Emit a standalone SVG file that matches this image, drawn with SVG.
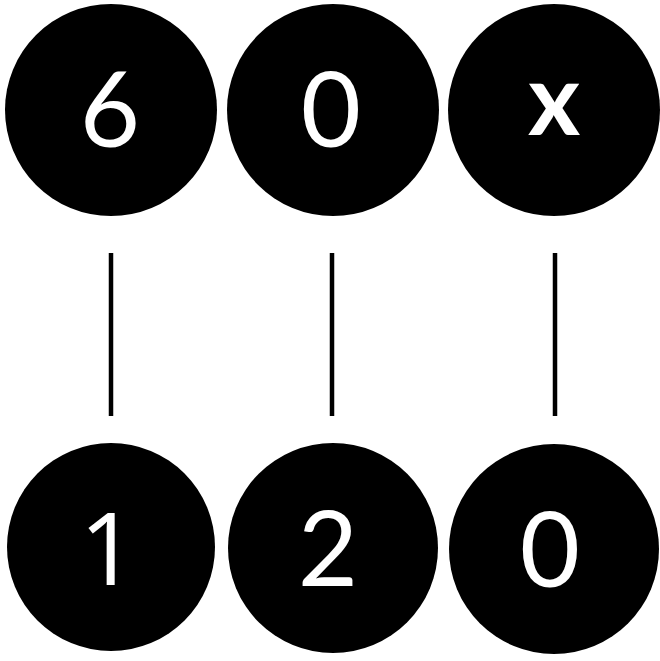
<svg xmlns="http://www.w3.org/2000/svg" width="660" height="661" viewBox="0 0 660 661">
<style>
.node circle{fill:#000}
.node text{fill:#fff;font-family:Lato,"Noto Sans",sans-serif;font-size:104px;text-anchor:middle}
.node text.x{font-weight:bold;font-size:100px}
.node text.one{font-family:"Open Sans","Noto Sans",sans-serif;font-size:100px}
.conn line{stroke:#000;stroke-width:4.5}
</style>
<rect width="660" height="661" fill="#fff"/>
<g class="conn">
<line x1="111" y1="253" x2="111" y2="416"/>
<line x1="332" y1="253" x2="332" y2="416"/>
<line x1="555" y1="253" x2="555" y2="416"/>
</g>
<g id="n6" class="node"><circle cx="111" cy="110" r="106"/><text x="110" y="147">6</text></g>
<g id="n0a" class="node"><circle cx="333" cy="110" r="106"/><text x="331" y="147">0</text></g>
<g id="nx" class="node"><circle cx="554" cy="110" r="106"/><text class="x" x="554" y="135">x</text></g>
<g id="n1" class="node"><circle cx="111" cy="547" r="104"/><text class="one" x="108" y="585">1</text></g>
<g id="n2" class="node"><circle cx="333" cy="548" r="105"/><text x="328" y="586">2</text></g>
<g id="n0b" class="node"><circle cx="554" cy="549" r="105"/><text x="550" y="587">0</text></g>
</svg>
